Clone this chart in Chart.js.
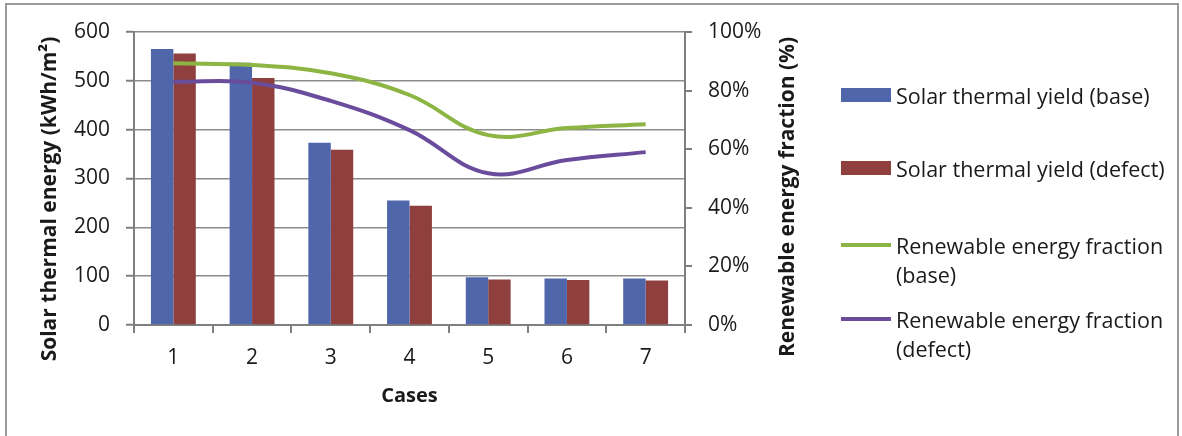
<!DOCTYPE html>
<html>
<head>
<meta charset="utf-8">
<script src="https://cdn.jsdelivr.net/npm/chart.js@4.4.1/dist/chart.umd.min.js"></script>
<style>
  html, body { margin: 0; padding: 0; background: #fff; }
  body { width: 1182px; height: 436px; position: relative; overflow: hidden; font-family: 'Open Sans', sans-serif; }
  #frame { position: absolute; left: 5px; top: 3px; width: 1170px; height: 520px; border: 2px solid #9a9a9a; }
  #wrap { position: absolute; left: 0; top: 0; width: 1182px; height: 436px; }
  #legend { position: absolute; left: 841px; top: 0; width: 340px; color: #1a1a1a; font-size: 21.5px; }
  .sw { position: absolute; left: 0; width: 50px; }
  .txt { position: absolute; left: 55px; line-height: 29px; white-space: nowrap; }
</style>
</head>
<body>
<div id="frame"></div>
<div id="wrap"><canvas id="c" width="1182" height="436"></canvas></div>
<div id="legend"></div>
<script>
const categories = ['1', '2', '3', '4', '5', '6', '7'];
const yieldBase = [565, 537, 373, 255, 98, 95, 95];
const yieldDefect = [556, 506, 359, 244, 93, 92, 91];
const refBase = [89.3, 88.7, 85.9, 78.5, 64.8, 67.2, 68.5];
const refDefect = [83.0, 82.7, 76.5, 66.5, 51.8, 56.3, 59.0];
const seriesNames = ['Solar thermal yield (base)', 'Solar thermal yield (defect)', 'Renewable energy fraction (base)', 'Renewable energy fraction (defect)'];
const leftTicks = [0, 100, 200, 300, 400, 500, 600];
const rightTicks = [0, 20, 40, 60, 80, 100];
const leftTitle = 'Solar thermal energy (kWh/m²)';
const rightTitle = 'Renewable energy fraction (%)';
const xTitle = 'Cases';

const FONT = "'Open Sans', sans-serif";
const colors = ['#4f67aa', '#8f3f3e', '#8db543', '#6a4c9c'];
const gridCol = '#8c8c8c';
const axisCol = '#7f7f7f';

const titlesPlugin = {
  id: 'rotTitles',
  afterDraw(chart) {
    const ctx = chart.ctx;
    ctx.save();
    ctx.fillStyle = '#1a1a1a';
    ctx.font = 'bold 21px ' + FONT;
    ctx.textAlign = 'center';
    ctx.textBaseline = 'middle';
    [[50, 199, leftTitle], [788, 197, rightTitle]].forEach(([x, y, t]) => {
      ctx.save();
      ctx.translate(x, y);
      ctx.rotate(-Math.PI / 2);
      ctx.fillText(t, 0, 0);
      ctx.restore();
    });
    ctx.restore();
  }
};

new Chart(document.getElementById('c'), {
  data: {
    labels: categories,
    datasets: [
      { type: 'line', label: seriesNames[2], data: refBase, yAxisID: 'y1', borderColor: colors[2], borderWidth: 4, pointRadius: 0, tension: 0.4, order: 0, fill: false },
      { type: 'line', label: seriesNames[3], data: refDefect, yAxisID: 'y1', borderColor: colors[3], borderWidth: 4, pointRadius: 0, tension: 0.4, order: 0, fill: false },
      { type: 'bar', label: seriesNames[0], data: yieldBase, yAxisID: 'y', backgroundColor: colors[0], barPercentage: 1, categoryPercentage: 0.57, order: 1 },
      { type: 'bar', label: seriesNames[1], data: yieldDefect, yAxisID: 'y', backgroundColor: colors[1], barPercentage: 1, categoryPercentage: 0.57, order: 1 }
    ]
  },
  options: {
    responsive: false,
    animation: false,
    layout: { padding: { left: 0, right: 377, top: 32, bottom: 0 } },
    plugins: { legend: { display: false }, tooltip: { enabled: false } },
    scales: {
      x: {
        position: 'bottom',
        afterFit(s) { s.height = 111; },
        grid: { offset: true, drawOnChartArea: false, drawTicks: true, tickLength: 8, color: axisCol, lineWidth: 2 },
        border: { color: axisCol, width: 2 },
        ticks: { color: '#1a1a1a', font: { family: FONT, size: 21 }, padding: 12, maxRotation: 0 },
        title: { display: true, text: xTitle, color: '#1a1a1a', font: { family: FONT, size: 20, weight: 'bold' }, padding: { top: 0, bottom: 28 } }
      },
      y: {
        position: 'left',
        min: 0, max: 600,
        afterFit(s) { s.width = 134; },
        afterBuildTicks(s) { s.ticks = leftTicks.map(v => ({ value: v })); },
        grid: { color: gridCol, lineWidth: 1.5, tickLength: 8, tickColor: axisCol, tickWidth: 2 },
        border: { color: axisCol, width: 2 },
        ticks: { color: '#1a1a1a', font: { family: FONT, size: 21 }, padding: 16 }
      },
      y1: {
        position: 'right',
        min: 0, max: 100,
        afterFit(s) { s.width = 120; },
        afterBuildTicks(s) { s.ticks = rightTicks.map(v => ({ value: v })); },
        grid: { drawOnChartArea: false, tickLength: 7, color: axisCol, lineWidth: 2 },
        border: { color: axisCol, width: 2 },
        ticks: { color: '#1a1a1a', font: { family: FONT, size: 21 }, padding: 16, callback: v => v + '%' }
      }
    }
  },
  plugins: [titlesPlugin]
});

// HTML legend built from series names / colours
const legendPos = [
  { y: 95, kind: 'box', lines: [seriesNames[0]] },
  { y: 168, kind: 'box', lines: [seriesNames[1]] },
  { y: 245, kind: 'line', lines: ['Renewable energy fraction', '(base)'] },
  { y: 319, kind: 'line', lines: ['Renewable energy fraction', '(defect)'] }
];
const lg = document.getElementById('legend');
legendPos.forEach((p, i) => {
  const sw = document.createElement('div');
  sw.className = 'sw';
  sw.style.background = colors[i];
  if (p.kind === 'box') { sw.style.height = '14px'; sw.style.top = (p.y - 7) + 'px'; }
  else { sw.style.height = '4px'; sw.style.top = (p.y - 2) + 'px'; }
  lg.appendChild(sw);
  const tx = document.createElement('div');
  tx.className = 'txt';
  tx.style.top = (p.y - 14.5) + 'px';
  tx.innerHTML = p.lines.join('<br>');
  lg.appendChild(tx);
});
</script>
</body>
</html>
